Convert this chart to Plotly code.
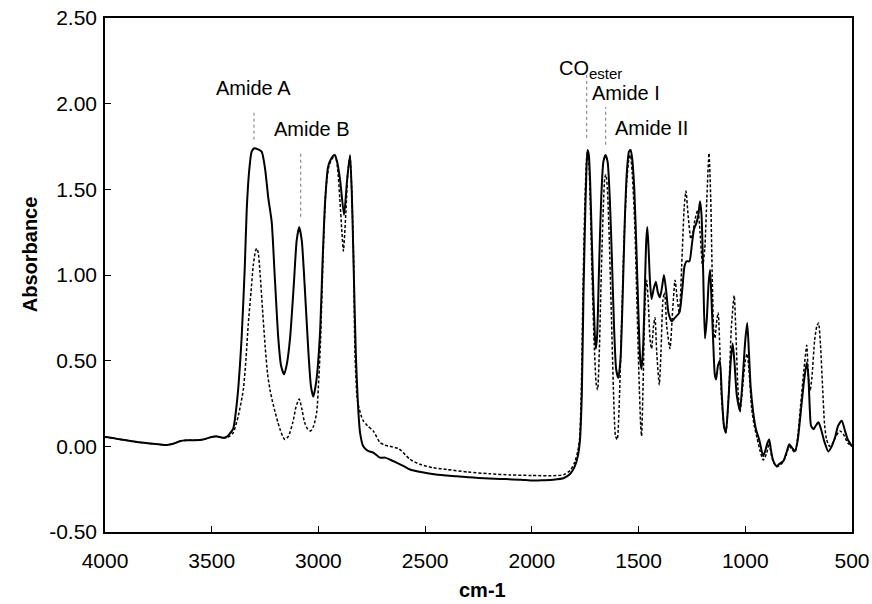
import plotly.graph_objects as go

# ---------------- data ----------------
solid_wn = [4000, 3980, 3950, 3900, 3850, 3800, 3750, 3710, 3680, 3650, 3616, 3580, 3540, 3500, 3475, 3450,
            3430, 3415, 3400, 3380, 3360, 3345, 3336, 3325, 3313, 3300, 3285, 3266, 3250, 3235, 3219, 3205,
            3188, 3175, 3161, 3148, 3133, 3115, 3102, 3090, 3078, 3065, 3047, 3035, 3024, 3010, 2993, 2980,
            2969, 2955, 2940, 2925, 2912, 2898, 2880, 2866, 2852, 2843, 2835, 2825, 2815, 2805, 2790, 2770,
            2743, 2712, 2688, 2660, 2633, 2600, 2571, 2520, 2450, 2350, 2250, 2150, 2050, 2000, 1950, 1900,
            1850, 1820, 1800, 1785, 1775, 1766, 1758, 1750, 1744, 1739, 1733, 1727, 1720, 1712, 1705, 1700,
            1694, 1685, 1675, 1665, 1655, 1645, 1635, 1625, 1615, 1605, 1595, 1585, 1575, 1565, 1555, 1545,
            1537, 1530, 1520, 1510, 1500, 1492, 1486, 1478, 1470, 1464, 1459, 1453, 1446, 1439, 1429, 1419,
            1410, 1400, 1390, 1381, 1370, 1360, 1345, 1330, 1309, 1295, 1285, 1275, 1262, 1250, 1240, 1230,
            1220, 1212, 1205, 1197, 1189, 1180, 1172, 1165, 1158, 1150, 1143, 1137, 1128, 1119, 1110, 1100,
            1091, 1080, 1068, 1059, 1050, 1040, 1025, 1012, 1000, 991, 983, 975, 963, 950, 935, 916,
            905, 896, 888, 880, 870, 853, 838, 822, 808, 794, 780, 767, 755, 740, 725, 712,
            705, 697, 692, 680, 670, 657, 645, 630, 611, 595, 580, 565, 548, 535, 520, 500]
solid_abs = [0.055, 0.052, 0.045, 0.035, 0.025, 0.018, 0.012, 0.008, 0.015, 0.030, 0.035, 0.035, 0.040, 0.055, 0.058, 0.050,
             0.055, 0.075, 0.10, 0.28, 0.63, 1.05, 1.38, 1.60, 1.72, 1.74, 1.735, 1.72, 1.62, 1.45, 1.31, 1.00,
             0.63, 0.47, 0.42, 0.48, 0.63, 0.95, 1.20, 1.28, 1.20, 0.95, 0.55, 0.35, 0.29, 0.38, 0.65, 1.10,
             1.42, 1.63, 1.68, 1.70, 1.66, 1.55, 1.35, 1.55, 1.70, 1.45, 1.05, 0.55, 0.25, 0.08, 0.00, -0.025,
             -0.037, -0.066, -0.066, -0.080, -0.096, -0.115, -0.135, -0.150, -0.165, -0.175, -0.185, -0.190, -0.195, -0.200, -0.198, -0.195,
             -0.185, -0.160, -0.120, -0.060, 0.03, 0.30, 0.90, 1.35, 1.62, 1.73, 1.70, 1.55, 1.25, 0.90, 0.65, 0.57,
             0.65, 1.05, 1.45, 1.66, 1.70, 1.66, 1.45, 1.10, 0.70, 0.45, 0.40, 0.50, 0.85, 1.30, 1.60, 1.72,
             1.73, 1.68, 1.50, 1.15, 0.75, 0.50, 0.45, 0.60, 0.95, 1.20, 1.28, 1.15, 0.95, 0.86, 0.92, 0.96,
             0.90, 0.87, 0.93, 1.00, 0.90, 0.78, 0.73, 0.75, 0.78, 0.92, 1.05, 1.08, 1.08, 1.18, 1.27, 1.30,
             1.35, 1.43, 1.35, 1.00, 0.63, 0.75, 0.95, 1.03, 0.85, 0.60, 0.42, 0.39, 0.47, 0.50, 0.30, 0.12,
             0.08, 0.25, 0.50, 0.60, 0.48, 0.30, 0.21, 0.40, 0.62, 0.72, 0.55, 0.35, 0.20, 0.10, 0.04, -0.057,
             -0.02, 0.02, 0.04, -0.02, -0.08, -0.115, -0.10, -0.086, -0.04, 0.012, -0.01, -0.027, 0.03, 0.20, 0.38, 0.49,
             0.42, 0.20, 0.12, 0.10, 0.12, 0.14, 0.10, 0.03, -0.03, 0.00, 0.05, 0.12, 0.15, 0.10, 0.04, 0.00]

dotted_wn = [4000, 3980, 3950, 3900, 3850, 3800, 3750, 3710, 3680, 3650, 3616, 3580, 3540, 3500, 3475, 3450,
             3430, 3415, 3399, 3375, 3352, 3340, 3329, 3316, 3305, 3295, 3289, 3282, 3274, 3262, 3250, 3238,
             3227, 3215, 3203, 3190, 3180, 3168, 3157, 3140, 3120, 3105, 3090, 3078, 3065, 3050, 3036, 3022,
             3008, 2998, 2990, 2977, 2965, 2950, 2935, 2922, 2910, 2900, 2890, 2883, 2872, 2862, 2852, 2844,
             2836, 2829, 2820, 2813, 2800, 2790, 2770, 2743, 2712, 2688, 2665, 2626, 2610, 2571, 2524, 2462,
             2399, 2300, 2200, 2100, 2000, 1900, 1850, 1820, 1800, 1785, 1776, 1768, 1760, 1752, 1745, 1740,
             1734, 1727, 1718, 1708, 1698, 1692, 1684, 1675, 1665, 1658, 1653, 1646, 1637, 1627, 1617, 1608,
             1600, 1592, 1580, 1568, 1555, 1545, 1538, 1530, 1518, 1508, 1498, 1490, 1486, 1480, 1472, 1466,
             1462, 1455, 1446, 1439, 1430, 1423, 1415, 1403, 1395, 1386, 1378, 1368, 1353, 1340, 1329, 1318,
             1309, 1298, 1286, 1278, 1268, 1255, 1245, 1235, 1222, 1212, 1200, 1190, 1180, 1170, 1162, 1155,
             1148, 1142, 1135, 1127, 1120, 1112, 1100, 1091, 1078, 1065, 1052, 1045, 1035, 1025, 1012, 1000,
             991, 983, 970, 958, 945, 930, 916, 900, 888, 878, 865, 853, 838, 822, 808, 794,
             780, 767, 755, 740, 725, 712, 705, 697, 688, 675, 665, 657, 648, 638, 628, 619,
             605, 590, 575, 556, 540, 520, 500]
dotted_abs = [0.055, 0.052, 0.045, 0.035, 0.025, 0.018, 0.012, 0.008, 0.015, 0.030, 0.035, 0.035, 0.040, 0.055, 0.058, 0.050,
              0.050, 0.060, 0.08, 0.18, 0.33, 0.50, 0.71, 0.90, 1.06, 1.14, 1.155, 1.13, 1.02, 0.80, 0.59, 0.42,
              0.33, 0.26, 0.20, 0.14, 0.10, 0.06, 0.04, 0.06, 0.14, 0.23, 0.276, 0.22, 0.14, 0.10, 0.09, 0.12,
              0.20, 0.40, 0.62, 1.15, 1.50, 1.64, 1.68, 1.70, 1.62, 1.45, 1.25, 1.14, 1.35, 1.60, 1.69, 1.50,
              1.15, 0.55, 0.30, 0.24, 0.18, 0.15, 0.12, 0.09, 0.023, 0.006, 0.000, -0.012, -0.027, -0.076, -0.105, -0.125,
              -0.135, -0.150, -0.160, -0.167, -0.170, -0.172, -0.165, -0.140, -0.095, -0.030, 0.05, 0.35, 0.95, 1.40, 1.65, 1.72,
              1.68, 1.45, 1.00, 0.60, 0.36, 0.33, 0.55, 1.00, 1.40, 1.57, 1.585, 1.50, 1.20, 0.75, 0.30, 0.06,
              0.04, 0.20, 0.70, 1.20, 1.55, 1.68, 1.70, 1.60, 1.30, 0.85, 0.40, 0.12, 0.06, 0.30, 0.75, 0.93,
              0.97, 0.85, 0.62, 0.57, 0.70, 0.75, 0.55, 0.36, 0.55, 0.85, 0.90, 0.70, 0.57, 0.80, 0.97, 0.85,
              0.78, 1.05, 1.40, 1.49, 1.35, 1.21, 1.25, 1.33, 1.38, 1.25, 1.05, 1.15, 1.45, 1.71, 1.45, 1.00,
              0.68, 0.63, 0.72, 0.78, 0.60, 0.30, 0.12, 0.08, 0.30, 0.70, 0.88, 0.70, 0.35, 0.20, 0.35, 0.50,
              0.54, 0.45, 0.22, 0.12, 0.05, -0.03, -0.08, -0.04, 0.02, -0.05, -0.10, -0.12, -0.11, -0.09, -0.05, 0.00,
              -0.02, -0.035, 0.05, 0.25, 0.45, 0.59, 0.42, 0.32, 0.40, 0.62, 0.70, 0.72, 0.60, 0.35, 0.12, 0.04,
              0.00, 0.02, 0.06, 0.09, 0.07, 0.02, 0.00]

x_tick_vals = [4000, 3500, 3000, 2500, 2000, 1500, 1000, 500]
x_tick_text = ["4000", "3500", "3000", "2500", "2000", "1500", "1000", "500"]
y_tick_vals = [-0.5, 0.0, 0.5, 1.0, 1.5, 2.0, 2.5]
y_tick_text = ["-0.50", "0.00", "0.50", "1.00", "1.50", "2.00", "2.50"]

x_title = "cm-1"
y_title = "Absorbance"

# band labels: text, marker-line wavenumber, marker-line top/bottom absorbance, label centre (wn, abs)
band_text = ["Amide A", "Amide B",
             "CO<sub><span style='font-size:15px'>ester</span></sub>", "Amide I", "Amide II"]
band_wn = [3302, 3083, 1743, 1654, None]
band_line_top = [1.96, 1.72, 2.17, 1.98, None]
band_line_bottom = [1.79, 1.34, 1.80, 1.76, None]
band_label_wn = [3302, 3032, 1725, 1560, 1439]
band_label_abs = [2.094, 1.85, 2.20, 2.065, 1.86]

FONT = "Arial, Liberation Sans, Helvetica, sans-serif"

fig = go.Figure()
fig.add_trace(go.Scatter(x=solid_wn, y=solid_abs, mode="lines",
                         line=dict(color="black", width=2, shape="spline", smoothing=0.6),
                         showlegend=False, hoverinfo="skip"))
fig.add_trace(go.Scatter(x=dotted_wn, y=dotted_abs, mode="lines",
                         line=dict(color="black", width=1.5, dash="3px,2px", shape="spline", smoothing=0.6),
                         showlegend=False, hoverinfo="skip"))

for wn, top, bot in zip(band_wn, band_line_top, band_line_bottom):
    if wn is None:
        continue
    fig.add_shape(type="line", xref="x", yref="y", x0=wn, x1=wn, y0=bot, y1=top,
                  line=dict(color="#777777", width=1, dash="dot"))

for txt, wn, ab in zip(band_text, band_label_wn, band_label_abs):
    fig.add_annotation(x=wn, y=ab, xref="x", yref="y", text=txt, showarrow=False,
                       xanchor="center", yanchor="middle",
                       font=dict(family=FONT, size=20, color="black"))

# axis titles placed as annotations (paper coords relative to plot area)
fig.add_annotation(x=-0.100, y=0.541, xref="paper", yref="paper", text="<b>%s</b>" % y_title,
                   showarrow=False, textangle=-90, xanchor="center", yanchor="middle",
                   font=dict(family=FONT, size=20, color="black"))
fig.add_annotation(x=0.506, y=-0.113, xref="paper", yref="paper", text="<b>%s</b>" % x_title,
                   showarrow=False, xanchor="center", yanchor="middle",
                   font=dict(family=FONT, size=20, color="black"))

fig.update_layout(
    width=872, height=604,
    margin=dict(l=105, r=20, t=18, b=72, autoexpand=False),
    paper_bgcolor="white", plot_bgcolor="white",
    font=dict(family=FONT, size=21, color="black"),
    showlegend=False,
)
fig.update_xaxes(range=[4000, 500], tickvals=x_tick_vals, ticktext=x_tick_text,
                 ticks="inside", ticklen=6, tickwidth=1, tickcolor="black",
                 showline=True, linecolor="black", linewidth=1.5, mirror=True,
                 showgrid=False, zeroline=False, ticklabelstandoff=9, automargin=False,
                 ticklabeloverflow="allow")
fig.update_yaxes(range=[-0.5, 2.5], tickvals=y_tick_vals, ticktext=y_tick_text,
                 ticks="inside", ticklen=6, tickwidth=1, tickcolor="black",
                 showline=True, linecolor="black", linewidth=1.5, mirror=True,
                 showgrid=False, zeroline=False, ticklabelstandoff=2, automargin=False,
                 ticklabeloverflow="allow")

# remove the default 8px page margin so the 872x604 figure fills the window exactly
fig.write_html("out.html", config={"displayModeBar": False},
               post_script="document.body.style.margin='0';document.body.style.overflow='hidden';")
